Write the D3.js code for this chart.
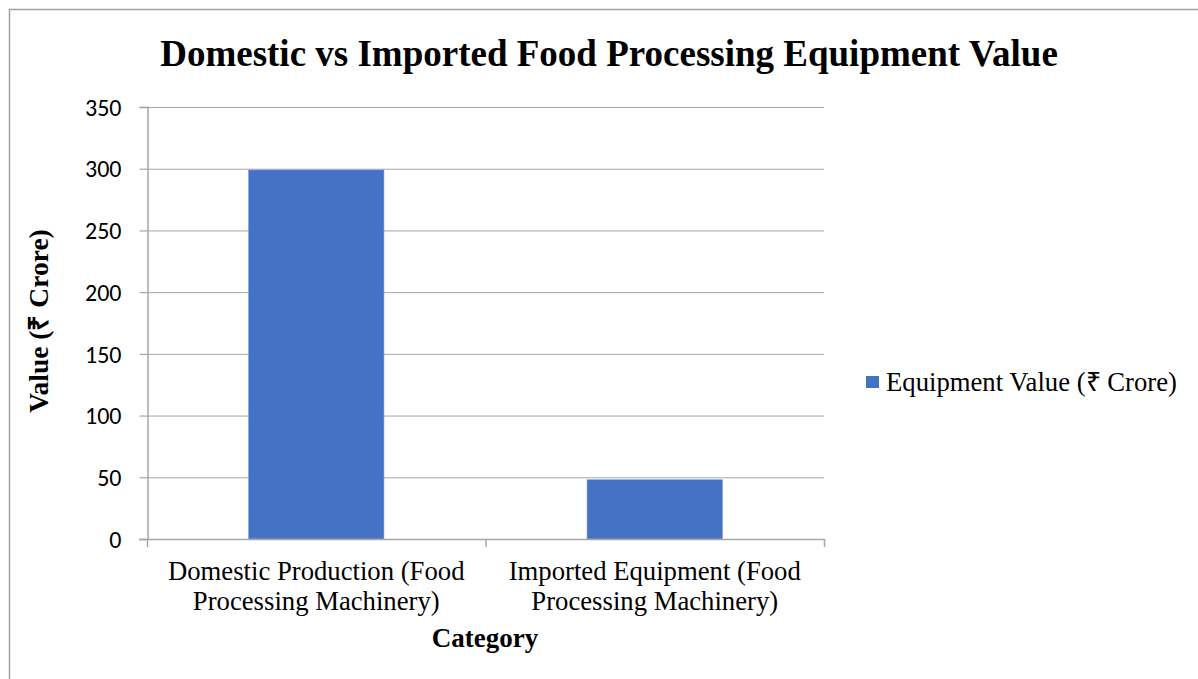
<!DOCTYPE html>
<html>
<head>
<meta charset="utf-8">
<script src="https://cdn.jsdelivr.net/npm/d3@7"></script>
<style>
  html, body { margin: 0; padding: 0; background: #fff; }
  svg { display: block; }
</style>
</head>
<body>
<svg id="chart" width="1198" height="679"></svg>
<script>
// Chart data
const categories = [
  ["Domestic Production (Food", "Processing Machinery)"],
  ["Imported Equipment (Food", "Processing Machinery)"]
];
const categoryKeys = ["Domestic Production (Food Processing Machinery)", "Imported Equipment (Food Processing Machinery)"];
const equipmentValues = [299, 48];
const yTicks = [0, 50, 100, 150, 200, 250, 300, 350];
const seriesName = "Equipment Value (₹ Crore)";

const svg = d3.select("#chart");
const serif = "'Liberation Serif', 'Times New Roman', serif";
const sans = "Carlito, 'Open Sans', 'Liberation Sans', sans-serif";

// Outer chart frame
svg.append("rect")
  .attr("x", 9.5).attr("y", 9.5)
  .attr("width", 1210).attr("height", 700)
  .attr("fill", "#fff").attr("stroke", "#a0a0a0").attr("stroke-width", 1.5);

const plot = { left: 147, right: 824, top: 107, bottom: 539 };

const x = d3.scaleBand()
  .domain(categoryKeys)
  .range([plot.left, plot.right])
  .paddingInner(0.6)
  .paddingOuter(0.3);

const y = d3.scaleLinear()
  .domain([0, 350])
  .range([plot.bottom, plot.top]);

// Horizontal gridlines
svg.append("g")
  .selectAll("line")
  .data(yTicks.filter(d => d > 0))
  .join("line")
  .attr("x1", plot.left).attr("x2", plot.right)
  .attr("y1", d => y(d) + 0.5).attr("y2", d => y(d) + 0.5)
  .attr("stroke", "#a6a6a6").attr("stroke-width", 1);

// Bars
svg.append("g")
  .selectAll("rect")
  .data(equipmentValues)
  .join("rect")
  .attr("x", (d, i) => x(categoryKeys[i]))
  .attr("width", x.bandwidth())
  .attr("y", d => y(d))
  .attr("height", d => y(0) - y(d))
  .attr("fill", "#4472C4")
  .attr("stroke", "#7f9fd8").attr("stroke-width", 0.6);

// Y axis
const yAxis = svg.append("g")
  .attr("transform", `translate(${plot.left + 0.5},0)`)
  .call(d3.axisLeft(y).tickValues(yTicks).tickSize(8).tickPadding(18));
yAxis.select(".domain").attr("stroke", "#a6a6a6").attr("stroke-width", 1.5);
yAxis.selectAll(".tick line").attr("stroke", "#a6a6a6").attr("stroke-width", 1.2);
yAxis.selectAll(".tick text")
  .attr("font-family", sans).attr("font-size", 24).attr("fill", "#000")
  .attr("dy", "0.34em");

// X axis with ticks at category boundaries
const xAxisG = svg.append("g");
xAxisG.append("line")
  .attr("x1", plot.left - 8).attr("x2", plot.right + 0.5)
  .attr("y1", plot.bottom + 0.5).attr("y2", plot.bottom + 0.5)
  .attr("stroke", "#a6a6a6").attr("stroke-width", 1.5);
const boundaries = [plot.left, plot.left + (plot.right - plot.left) / 2, plot.right];
xAxisG.selectAll("line.tick")
  .data(boundaries)
  .join("line")
  .attr("class", "tick")
  .attr("x1", d => d + 0.5).attr("x2", d => d + 0.5)
  .attr("y1", plot.bottom).attr("y2", plot.bottom + 8)
  .attr("stroke", "#a6a6a6").attr("stroke-width", 1.5);

// Category labels (two lines each)
categories.forEach((lines, i) => {
  const cx = x(categoryKeys[i]) + x.bandwidth() / 2;
  const t = svg.append("text")
    .attr("text-anchor", "middle")
    .attr("font-family", serif).attr("font-size", 26.7).attr("fill", "#000");
  lines.forEach((ln, j) => {
    t.append("tspan").attr("x", cx).attr("y", 580 + j * 30).text(ln);
  });
});

// Axis titles
svg.append("text")
  .attr("x", 485).attr("y", 647)
  .attr("text-anchor", "middle")
  .attr("font-family", serif).attr("font-size", 27).attr("font-weight", "bold")
  .text("Category");

svg.append("text")
  .attr("transform", "translate(48,321) rotate(-90)")
  .attr("text-anchor", "middle")
  .attr("font-family", serif).attr("font-size", 27.5).attr("font-weight", "bold")
  .text("Value (₹ Crore)");

// Title
svg.append("text")
  .attr("x", 609).attr("y", 66)
  .attr("text-anchor", "middle")
  .attr("font-family", serif).attr("font-size", 37).attr("font-weight", "bold")
  .text("Domestic vs Imported Food Processing Equipment Value");

// Legend
const legend = svg.append("g").attr("transform", "translate(866,376)");
legend.append("rect").attr("width", 13).attr("height", 12).attr("fill", "#4472C4");
legend.append("text")
  .attr("x", 20).attr("y", 15)
  .attr("font-family", serif).attr("font-size", 26.7).attr("fill", "#000")
  .text(seriesName);
</script>
</body>
</html>
